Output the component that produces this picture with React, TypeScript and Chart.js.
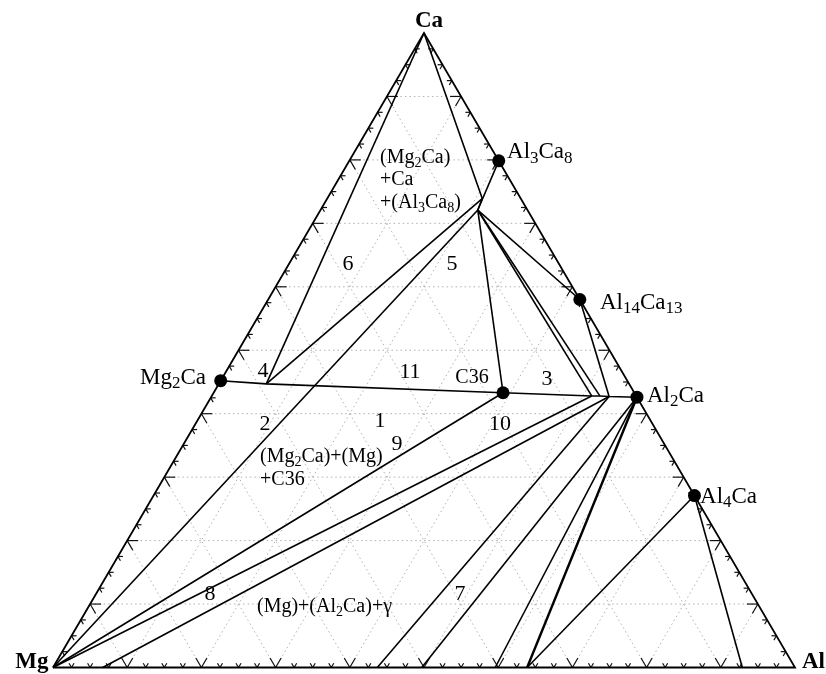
import React, { useEffect, useRef } from "react";
import { Chart, registerables } from "chart.js";
Chart.register(...registerables);

// Ternary Mg–Al–Ca, weight fractions (Mg = 1 - Al - Ca)
const pointNames = ["Mg", "Al", "Ca", "Mg2Ca", "Al2Ca", "Al4Ca", "Al14Ca13", "Al3Ca8", "C36",
  "P4", "K", "J", "T1", "T2", "T3", "B1", "B2", "B3", "B4", "B5", "B6"];
const pointAl = [0, 1, 0, 0, 0.574, 0.729, 0.42, 0.2015, 0.39,
  0.064, 0.209, 0.212, 0.512, 0.523, 0.536, 0.067, 0.437, 0.497, 0.596, 0.639, 0.929];
const pointCa = [0, 0, 1, 0.452, 0.426, 0.271, 0.58, 0.7985, 0.433,
  0.447, 0.739, 0.721, 0.428, 0.428, 0.427, 0, 0, 0, 0, 0, 0];

// Compounds marked with dots
const compoundDots = ["Mg2Ca", "Al2Ca", "Al4Ca", "Al14Ca13", "Al3Ca8", "C36"];

// Phase boundaries / tie lines (sequences of named points)
const edgeLine = ["Mg", "Al", "Ca", "Mg"];
const tieLines = [
  ["Mg2Ca", "P4", "C36", "T1", "T2", "T3", "Al2Ca"],
  ["Ca", "P4"],
  ["P4", "K"],
  ["Ca", "K", "J"],
  ["Al3Ca8", "J"],
  ["Mg", "J"],
  ["J", "C36"],
  ["J", "T1"],
  ["J", "T2"],
  ["J", "Al14Ca13"],
  ["Al14Ca13", "T3"],
  ["Mg", "C36"],
  ["Mg", "T1"],
  ["B1", "T3"],
  ["T3", "B2"],
  ["Al2Ca", "B3"],
  ["Al2Ca", "B4"],
  ["Al4Ca", "B5"],
  ["Al4Ca", "B6"],
];
const thickLines = [["Al2Ca", "B5"]];

// Text annotations: [text, x, y (plot units), size, align, bold]
const labels: [string, number, number, number, string, boolean][] = [
  ["Ca", 0.5067, 1.0094, 23, "center", true],
  ["Mg", -0.006, 0.0, 23, "right", true],
  ["Al", 1.0094, 0.0, 23, "left", true],
  ["Mg_2Ca", 0.2062, 0.4472, 23, "right", false],
  ["Al_3Ca_8", 0.6119, 0.8031, 23, "left", false],
  ["Al_14Ca_13", 0.7372, 0.5654, 23, "left", false],
  ["Al_2Ca", 0.8005, 0.4189, 23, "left", false],
  ["Al_4Ca", 0.8720, 0.2598, 23, "left", false],
  ["(Mg_2Ca)", 0.4407, 0.7953, 20, "left", false],
  ["+Ca", 0.4407, 0.7606, 20, "left", false],
  ["+(Al_3Ca_8)", 0.4407, 0.7244, 20, "left", false],
  ["6", 0.3976, 0.6268, 22, "center", false],
  ["5", 0.5377, 0.6268, 22, "center", false],
  ["11", 0.4811, 0.4567, 22, "center", false],
  ["C36", 0.5647, 0.4488, 20, "center", false],
  ["3", 0.6658, 0.4457, 22, "center", false],
  ["4", 0.2830, 0.4583, 22, "center", false],
  ["2", 0.2857, 0.3748, 22, "center", false],
  ["1", 0.4407, 0.3795, 22, "center", false],
  ["10", 0.6024, 0.3748, 22, "center", false],
  ["9", 0.4636, 0.3433, 22, "center", false],
  ["(Mg_2Ca)+(Mg)", 0.2790, 0.3244, 20, "left", false],
  ["+C36", 0.2790, 0.2882, 20, "left", false],
  ["8", 0.2116, 0.1071, 22, "center", false],
  ["(Mg)+(Al_2Ca)+γ", 0.2749, 0.0882, 20, "left", false],
  ["7", 0.5485, 0.1071, 22, "center", false],
];

const FONT = '"Liberation Serif", "Times New Roman", serif';

function idx(n: string) { return pointNames.indexOf(n); }
function xy(n: string) {
  const i = idx(n);
  return { x: pointAl[i] + pointCa[i] / 2, y: pointCa[i] };
}

function drawRich(ctx: CanvasRenderingContext2D, text: string, x: number, y: number,
  size: number, align: string, bold: boolean) {
  const segs: { t: string; sub: boolean }[] = [];
  let i = 0; let cur = "";
  while (i < text.length) {
    if (text[i] === "_") {
      if (cur) { segs.push({ t: cur, sub: false }); cur = ""; }
      i++;
      let d = "";
      while (i < text.length && /[0-9]/.test(text[i])) { d += text[i]; i++; }
      segs.push({ t: d, sub: true });
    } else { cur += text[i]; i++; }
  }
  if (cur) segs.push({ t: cur, sub: false });
  const w = bold ? "bold " : "";
  const subSize = Math.round(size * 0.72);
  let total = 0;
  const widths = segs.map((s) => {
    ctx.font = `${w}${s.sub ? subSize : size}px ${FONT}`;
    const m = ctx.measureText(s.t).width;
    total += m;
    return m;
  });
  let cx = align === "center" ? x - total / 2 : align === "right" ? x - total : x;
  ctx.textBaseline = "alphabetic";
  ctx.textAlign = "left";
  segs.forEach((s, k) => {
    ctx.font = `${w}${s.sub ? subSize : size}px ${FONT}`;
    ctx.fillText(s.t, cx, s.sub ? y + size * 0.2 : y);
    cx += widths[k];
  });
}

const ternaryPlugin = {
  id: "ternary",
  beforeDatasetsDraw(chart: any) {
    const ctx: CanvasRenderingContext2D = chart.ctx;
    const xs = chart.scales.x, ys = chart.scales.y;
    const P = (al: number, ca: number) => [xs.getPixelForValue(al + ca / 2), ys.getPixelForValue(ca)];
    ctx.save();
    // dotted grid every 10%
    ctx.strokeStyle = "#b0b0b0";
    ctx.lineWidth = 1;
    ctx.setLineDash([1.5, 3]);
    for (let k = 1; k < 10; k++) {
      const f = k / 10;
      const segs = [
        [P(0, f), P(1 - f, f)],
        [P(f, 0), P(f, 1 - f)],
        [P(f, 0), P(0, f)],
      ];
      segs.forEach(([a, b]) => {
        ctx.beginPath(); ctx.moveTo(a[0], a[1]); ctx.lineTo(b[0], b[1]); ctx.stroke();
      });
    }
    ctx.setLineDash([]);
    // edge ticks every 2.5%, long every 10%
    ctx.strokeStyle = "#111";
    ctx.lineWidth = 1.2;
    const arm = (p: number[], q: number[], len: number) => {
      const dx = q[0] - p[0], dy = q[1] - p[1];
      const d = Math.hypot(dx, dy);
      ctx.beginPath(); ctx.moveTo(p[0], p[1]); ctx.lineTo(p[0] + dx / d * len, p[1] + dy / d * len); ctx.stroke();
    };
    for (let k = 1; k < 40; k++) {
      const f = k / 40;
      const len = k % 4 === 0 ? 11 : 5;
      // bottom edge (Mg–Al)
      let p = P(f, 0);
      arm(p, P(f, 0.1), len); arm(p, P(f - 0.1, 0.1), len);
      // left edge (Mg–Ca)
      p = P(0, f);
      arm(p, P(0.1, f), len); arm(p, P(0.1, f - 0.1), len);
      // right edge (Al–Ca)
      p = P(1 - f, f);
      arm(p, P(1 - f - 0.1, f), len); arm(p, P(1 - f, f - 0.1), len);
    }
    ctx.restore();
  },
  afterDatasetsDraw(chart: any) {
    const ctx: CanvasRenderingContext2D = chart.ctx;
    const xs = chart.scales.x, ys = chart.scales.y;
    ctx.save();
    ctx.fillStyle = "#000";
    labels.forEach(([t, x, y, s, a, b]) => {
      drawRich(ctx, t, xs.getPixelForValue(x), ys.getPixelForValue(y), s, a, b);
    });
    ctx.restore();
  },
};

export default function App() {
  const ref = useRef<HTMLCanvasElement>(null);
  useEffect(() => {
    if (!ref.current) return;
    const lineDs = (names: string[], width: number) => ({
      data: names.map(xy),
      showLine: true,
      borderColor: "#000",
      borderWidth: width,
      pointRadius: 0,
      fill: false,
      clip: false as any,
      tension: 0,
    });
    const datasets: any[] = [lineDs(edgeLine, 1.8)];
    tieLines.forEach((l) => datasets.push(lineDs(l, 1.6)));
    thickLines.forEach((l) => datasets.push(lineDs(l, 2.4)));
    datasets.push({
      data: compoundDots.map(xy),
      showLine: false,
      pointRadius: 6.5,
      pointBackgroundColor: "#000",
      pointBorderColor: "#000",
      pointBorderWidth: 0,
      clip: false,
    });
    const chart = new Chart(ref.current, {
      type: "scatter",
      data: { datasets },
      options: {
        animation: false,
        responsive: false,
        maintainAspectRatio: false,
        layout: { padding: { left: 53, right: 31, top: 33, bottom: 6 } },
        scales: {
          x: { type: "linear", min: 0, max: 1, display: false },
          y: { type: "linear", min: 0, max: 1, display: false },
        },
        plugins: { legend: { display: false }, tooltip: { enabled: false } },
        events: [],
      },
      plugins: [ternaryPlugin],
    });
    return () => chart.destroy();
  }, []);
  return (
    <div style={{ position: "absolute", left: 0, top: 0, width: 826, height: 674, background: "#fff" }}>
      <canvas ref={ref} width={826} height={674} style={{ display: "block" }} />
    </div>
  );
}
